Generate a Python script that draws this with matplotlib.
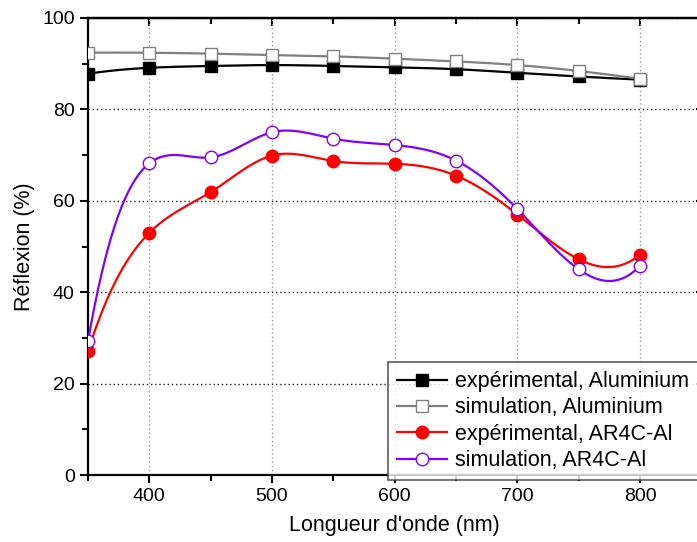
import numpy as np
import matplotlib.pyplot as plt
from matplotlib.ticker import MultipleLocator

plt.rcParams['font.family'] = ['Liberation Sans', 'DejaVu Sans']

# données
wl = [350, 400, 450, 500, 550, 600, 650, 700, 750, 800]
exp_al = [87.8, 89.1, 89.5, 89.7, 89.5, 89.2, 88.8, 88.0, 87.2, 86.5]
sim_al = [92.4, 92.4, 92.2, 91.9, 91.6, 91.1, 90.5, 89.7, 88.4, 86.7]
exp_ar = [27.1, 53.0, 61.9, 69.9, 68.7, 68.1, 65.5, 57.0, 47.2, 48.2]
sim_ar = [29.3, 68.2, 69.5, 75.0, 73.6, 72.2, 68.8, 58.2, 45.0, 45.8]

labels = ["expérimental, Aluminium", "simulation, Aluminium",
          "expérimental, AR4C-Al", "simulation, AR4C-Al"]


# spline cubique "not-a-knot" pour tracer la courbe lissée entre les points
def spline(x, y, n=500):
    x = np.asarray(x, float)
    y = np.asarray(y, float)
    k = len(x)
    h = np.diff(x)
    A = np.zeros((k, k))
    b = np.zeros(k)
    A[0, 0:3] = [h[1], -(h[0] + h[1]), h[0]]
    A[-1, -3:] = [h[-1], -(h[-2] + h[-1]), h[-2]]
    for i in range(1, k - 1):
        A[i, i - 1] = h[i - 1]
        A[i, i] = 2 * (h[i - 1] + h[i])
        A[i, i + 1] = h[i]
        b[i] = 6 * ((y[i + 1] - y[i]) / h[i] - (y[i] - y[i - 1]) / h[i - 1])
    M = np.linalg.solve(A, b)
    xs = np.linspace(x[0], x[-1], n)
    idx = np.clip(np.searchsorted(x, xs) - 1, 0, k - 2)
    x0, x1 = x[idx], x[idx + 1]
    hh = x1 - x0
    a, c = x1 - xs, xs - x0
    ys = (M[idx] * a**3 + M[idx + 1] * c**3) / (6 * hh) \
        + (y[idx] / hh - M[idx] * hh / 6) * a \
        + (y[idx + 1] / hh - M[idx + 1] * hh / 6) * c
    return xs, ys


fig = plt.figure(figsize=(6.97, 5.42), dpi=100)
ax = fig.add_axes([0.1263, 0.1236, 0.88, 0.8432])

series = [
    (exp_al, 'black', 's', 'black', 8),
    (sim_al, '#808080', 's', 'white', 8),
    (exp_ar, '#ff0000', 'o', '#ff0000', 9),
    (sim_ar, '#8000ff', 'o', 'white', 9),
]
handles = []
for (vals, col, mk, fc, ms), lab in zip(series, labels):
    xs, ys = spline(wl, vals)
    ax.plot(xs, ys, color=col, lw=1.6, zorder=3)
    ax.plot(wl, vals, ls='none', marker=mk, ms=ms, mfc=fc, mec=col, mew=1.0, zorder=4)
    h, = ax.plot([], [], color=col, lw=1.6, marker=mk, ms=ms, mfc=fc, mec=col, mew=1.0)
    handles.append(h)

ax.set_xlim(350, 850)
ax.set_ylim(0, 100)
ax.xaxis.set_major_locator(MultipleLocator(100))
ax.xaxis.set_minor_locator(MultipleLocator(50))
ax.yaxis.set_major_locator(MultipleLocator(20))
ax.yaxis.set_minor_locator(MultipleLocator(10))
ax.tick_params(which='both', direction='out', width=1.5, labelsize=14)
ax.tick_params(which='major', length=6)
ax.tick_params(which='minor', length=4)

# graduations intérieures en haut et à droite
top = ax.secondary_xaxis('top')
top.xaxis.set_major_locator(MultipleLocator(100))
top.xaxis.set_minor_locator(MultipleLocator(50))
top.tick_params(which='both', direction='in', width=1.5, labeltop=False)
top.tick_params(which='major', length=6)
top.tick_params(which='minor', length=4)
right = ax.secondary_yaxis('right')
right.yaxis.set_major_locator(MultipleLocator(20))
right.yaxis.set_minor_locator(MultipleLocator(10))
right.tick_params(which='both', direction='in', width=1.5, labelright=False)
for sp in list(ax.spines.values()) + list(top.spines.values()) + list(right.spines.values()):
    sp.set_linewidth(1.6)

ax.grid(True, which='major', axis='x', ls=(0, (1, 2)), color='#999999', lw=1)
ax.grid(True, which='major', axis='y', ls=(0, (1, 2)), color='#222222', lw=1)
ax.set_axisbelow(True)

ax.set_xlabel("Longueur d'onde (nm)", fontsize=15.5, labelpad=7)
ax.set_ylabel("Réflexion (%)", fontsize=15.5, labelpad=5)

leg = fig.legend(handles, labels, loc='upper left',
                 bbox_to_anchor=(0.5567, 0.1321, 0.5, 0.2), mode='expand',
                 fontsize=15.5, frameon=True, fancybox=False, edgecolor='#333333',
                 handlelength=2.3, handletextpad=0.4, labelspacing=0.25,
                 borderpad=0.42, borderaxespad=0)
leg.get_frame().set_linewidth(1.2)

fig.savefig('out.png', dpi=100)
